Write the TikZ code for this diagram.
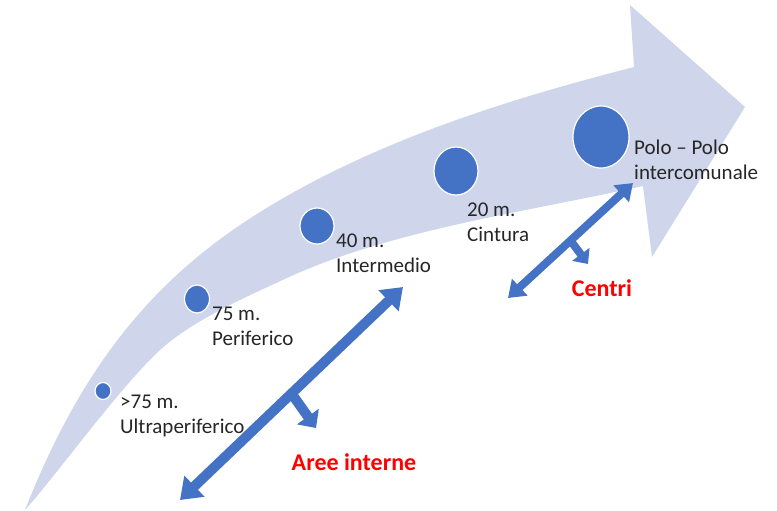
\documentclass[tikz,border=0pt]{standalone}
\usepackage{fontspec}
\setmainfont{Carlito}
\usepackage{tikz}
\usetikzlibrary{calc}
\usetikzlibrary{shapes}
\usetikzlibrary{arrows.meta}
\definecolor{fascia}{RGB}{207,213,234}
\definecolor{blu}{RGB}{68,114,196}
\definecolor{testo}{RGB}{38,38,38}
\tikzset{
  dot/.style={ellipse, fill=blu, draw=white, line width=1.2pt, inner sep=0pt},
  lab/.style={anchor=west, align=left, inner sep=0pt, text=testo, font=\fontsize{21}{25}\selectfont},
  rosso/.style={inner sep=0pt, text=red, font=\bfseries\fontsize{24}{28}\selectfont},
  frecciaA/.style={blu, line width=10pt, arrows={Triangle[length=20pt,width=28pt]-Triangle[length=20pt,width=28pt]}},
  frecciaB/.style={blu, line width=8pt, arrows={Triangle[length=16pt,width=22pt]-Triangle[length=16pt,width=22pt]}},
  ramoA/.style={blu, line width=10pt, arrows={-Triangle[length=14pt,width=26pt]}},
  ramoB/.style={blu, line width=8pt, arrows={-Triangle[length=12pt,width=21pt]}}
}
\newcommand{\comune}[5]{\node[dot, minimum width=#4pt, minimum height=#5pt] (#1) at (#2,#3) {};}
\newcommand{\etichetta}[4]{\node[lab] (#1) at (#2,#3) {#4};}

\begin{document}
\begin{tikzpicture}[x=1pt, y=-1pt]
        \useasboundingbox (0,0) rectangle (777,511);
        % band
        \fill[fascia] (25,510) .. controls (88,350) and (168,265) .. (280,200)
          .. controls (388,137) and (513,98) .. (634,67)
          -- (630,5) -- (745,107) -- (652,257) -- (643,186)
          .. controls (526,212) and (391,230) .. (287,278)
          .. controls (246,297) and (193,320) .. (160,350)
          .. controls (120,387) and (58,473) .. (25,510) -- cycle;
        % dots
        \comune{ultra}{103}{391}{16}{17}
        \comune{peri}{197}{299}{25}{28}
        \comune{inter}{317}{226}{34}{36}
        \comune{cint}{456}{171}{44}{48}
        \comune{polo}{601}{137}{56}{62}
        % labels
        \etichetta{tultra}{120}{416}{>75 m.\\Ultraperiferico}
        \etichetta{tperi}{212}{326}{75 m.\\Periferico}
        \etichetta{tinter}{336}{253}{40 m.\\Intermedio}
        \etichetta{tcint}{467}{222}{20 m.\\Cintura}
        \etichetta{tpolo}{634}{160}{Polo -- Polo\\intercomunale}
        % aree interne
        \coordinate (aiA) at (180,500);
        \coordinate (aiB) at (403,287);
        \coordinate (aiT) at (316,428);
        \draw[frecciaA] (aiA) -- (aiB);
        \draw[ramoA] ($(aiA)!0.5!(aiB)$) -- (aiT);
        \node[rosso] (aree) at (354,462) {Aree interne};
        % centri
        \coordinate (ceA) at (508,298);
        \coordinate (ceB) at (633,183);
        \coordinate (ceT) at (588,264);
        \draw[frecciaB] (ceA) -- (ceB);
        \draw[ramoB] ($(ceA)!0.5!(ceB)$) -- (ceT);
        \node[rosso] (centri) at (602,288) {Centri};
\end{tikzpicture}
\end{document}
